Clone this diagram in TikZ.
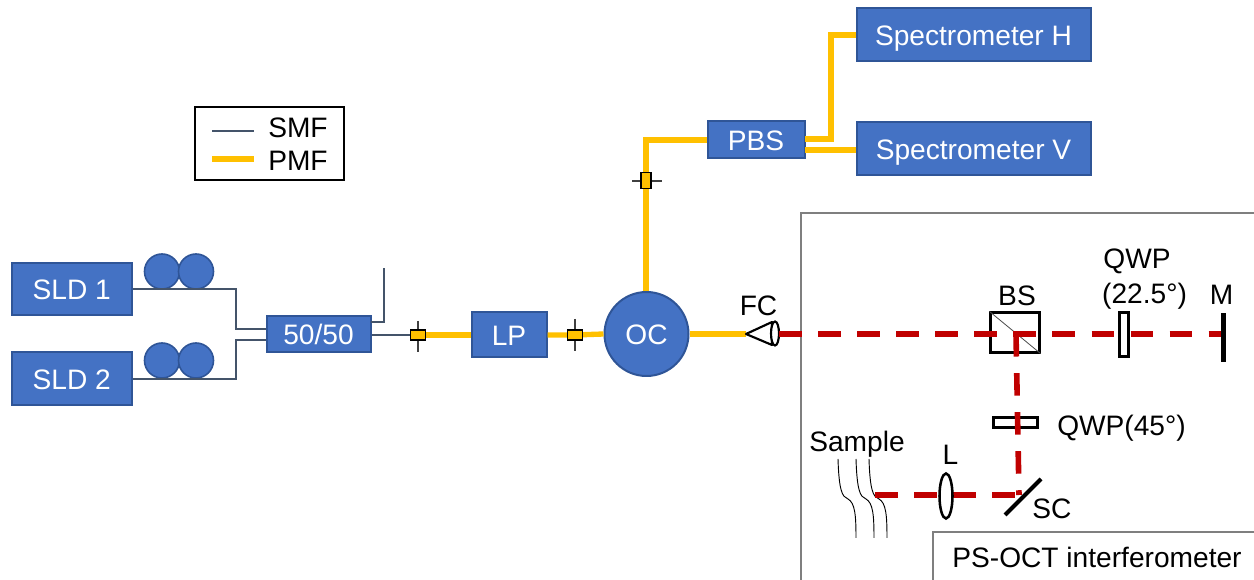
\documentclass[tikz,border=0pt]{standalone}
\usepackage{fontspec}
\usetikzlibrary{shapes.geometric}
\setmainfont{Liberation Sans}
\newdimen\px \px=0.75pt
\definecolor{boxfill}{HTML}{4472C4}
\definecolor{boxline}{HTML}{2F5597}
\definecolor{pmfcol}{HTML}{FFC000}
\definecolor{beamcol}{HTML}{C00000}
\definecolor{smfcol}{HTML}{44546A}
\definecolor{framecol}{HTML}{7F7F7F}
\tikzset{
  bluebox/.style={draw=boxline,fill=boxfill,line width=1.5pt,text=white,inner sep=0pt,font=\fontsize{21.1}{25}\selectfont,text height=15.1pt,text depth=0pt,align=center},
  paddle/.style={circle,draw=boxline,fill=boxfill,line width=1.2pt,minimum size=35*\px,inner sep=0pt},
  lab/.style={inner sep=0pt,font=\fontsize{21.1}{25}\selectfont,text height=15.1pt,text depth=0pt},
  smf/.style={draw=smfcol,line width=1.5pt},
  pmf/.style={draw=pmfcol,line width=4pt},
  beam/.style={draw=beamcol,line width=4.2pt,dash pattern=on 16.9pt off 12.4pt},
  optic/.style={draw=black,line width=1.6pt,fill=white,inner sep=0pt},
  conn/.style={draw=black,fill=pmfcol,line width=1.4pt,inner sep=0pt},
  tick/.style={draw=black!75,line width=0.8pt},
  samp/.style={draw=black,line width=0.7pt},
}
\begin{document}
\begin{tikzpicture}[x=0.75pt,y=-0.75pt]
\useasboundingbox (0,0) rectangle (1254,580);
% frames
\coordinate (f1) at (801,580); \coordinate (f2) at (801,213); \coordinate (f3) at (1254,213);
\draw[framecol,line width=1.5pt] (f1) -- (f2) -- (f3);
\node[lab,draw=framecol,line width=1.5pt,fill=white,minimum width=330*\px,minimum height=60*\px,anchor=north west] (psoct) at (932,531) {};
\node[lab] (psocttxt) at (1097,557) {PS-OCT interferometer};
% legend
\node[draw=black,line width=1.5pt,fill=white,minimum width=149*\px,minimum height=73*\px,inner sep=0pt] (legend) at (269,144) {};
\coordinate (l1a) at (212,131); \coordinate (l1b) at (254,131);
\coordinate (l2a) at (212,159); \coordinate (l2b) at (254,159);
\draw[smf] (l1a) -- (l1b);
\draw[pmf] (l2a) -- (l2b);
\node[lab,anchor=west] (smftxt) at (268,127) {SMF};
\node[lab,anchor=west] (pmftxt) at (268,160) {PMF};
% sources
\node[bluebox,minimum width=120*\px,minimum height=52*\px] (sld1) at (71.8,289.5) {SLD 1};
\node[bluebox,minimum width=120*\px,minimum height=53*\px] (sld2) at (71.8,379) {SLD 2};
\node[paddle] (p1a) at (162,271.5) {};
\node[paddle] (p1b) at (196,271.5) {};
\node[paddle] (p2a) at (162,360.5) {};
\node[paddle] (p2b) at (196,360.5) {};
\node[bluebox,minimum width=104*\px,minimum height=36*\px] (split) at (318.5,334.5) {50/50};
\coordinate (in1) at (236,329); \coordinate (in2) at (236,340);
\coordinate (in1e) at (266,329); \coordinate (in2e) at (266,340);
\draw[smf] (sld1.east) -| (in1) -- (in1e);
\draw[smf] (sld2.east) -| (in2) -- (in2e);
\coordinate (o1) at (371,322); \coordinate (o1t) at (384,268);
\draw[smf] (o1) -| (o1t);
% main line
\node[bluebox,minimum width=75*\px,minimum height=45*\px] (lp) at (509,335) {LP};
\node[bluebox,circle,minimum size=84*\px] (oc) at (646.5,334) {OC};
\node[bluebox,minimum width=97*\px,minimum height=37*\px] (pbs) at (756,140) {PBS};
\node[bluebox,minimum width=234*\px,minimum height=53*\px] (spech) at (973.5,35) {Spectrometer H};
\node[bluebox,minimum width=234*\px,minimum height=53*\px] (specv) at (973.5,149) {Spectrometer V};
% connectors' ticks
\coordinate (t1a) at (418,321); \coordinate (t1b) at (418,352);
\coordinate (t2a) at (575,319); \coordinate (t2b) at (575,351);
\coordinate (t3a) at (632,181); \coordinate (t3b) at (662,181);
\coordinate (c1) at (418,335); \coordinate (c2) at (575,335); \coordinate (c3) at (646,180.5);
\draw[smf] (split.east |- c1) -- (c1);
\draw[pmf] (c1) -- (lp.west);
\draw[pmf] (lp.east) -- (c2) -- (oc.west);
\coordinate (fctip) at (746,334);
\draw[pmf] (oc.east) -- (fctip);
\coordinate (pbsturn) at (646,140);
\draw[pmf] (pbs.west) -- (pbsturn) -- (oc.north -| pbsturn);
\coordinate (pbsh) at (805,139); \coordinate (pbsv) at (805,150);
\coordinate (hturn) at (831,35);
\draw[pmf] (pbsh) -| (hturn) -- (spech.west);
\draw[pmf] (pbsv) -- (specv.west |- pbsv);
\draw[tick] (t1a) -- (t1b);
\draw[tick] (t2a) -- (t2b);
\draw[tick] (t3a) -- (t3b);
\node[conn,minimum width=15*\px,minimum height=10*\px] (k1) at (c1) {};
\node[conn,minimum width=15*\px,minimum height=10*\px] (k2) at (c2) {};
\node[conn,minimum width=10*\px,minimum height=16*\px] (k3) at (c3) {};
% fibre collimator
\draw[optic,line join=round] (fctip) -- (772,322) -- (772,345) -- cycle;
\node[optic,ellipse,minimum width=8*\px,minimum height=24*\px] (fc) at (775,333.5) {};
\node[lab] (fctxt) at (758.5,305) {FC};
% sample
\foreach \d in {0,18,31}{
  \draw[samp] (838+\d,459) .. controls (839+\d,490) and (842+\d,497) .. (848+\d,499)
     .. controls (855+\d,503) and (856+\d,515) .. (856+\d,538);
}
\node[lab] (sampletxt) at (857,441) {Sample};
% optics behind the beam
\node[optic,minimum width=49*\px,minimum height=40*\px] (bs) at (1015,332.5) {};
\draw[draw=black!70,line width=0.6pt] (bs.north west) -- (bs.south east);
\node[optic,minimum width=44*\px,minimum height=10*\px] (qwpb) at (1015.5,422.5) {};
% beams
\coordinate (bstart) at (779,334); \coordinate (bend) at (1223,334);
\coordinate (vstart) at (1016,334); \coordinate (vend) at (1019,495);
\coordinate (hstart) at (875,495); \coordinate (hend) at (1021,495);
\draw[beam] (bstart) -- (bend);
\draw[beam] (vstart) -- (vend);
\draw[beam] (hstart) -- (hend);
% optics in front
\node[optic,minimum width=9*\px,minimum height=44*\px] (qwpa) at (1124,334.5) {};
\node[fill=black,minimum width=5*\px,minimum height=49*\px,inner sep=0pt] (mirror) at (1223,337.5) {};
\node[optic,ellipse,line width=1.9pt,minimum width=13*\px,minimum height=45*\px] (lens) at (946,496) {};
\coordinate (sca) at (1005,515); \coordinate (scb) at (1041,479);
\draw[black,line width=3pt] (sca) -- (scb);
\node[lab] (bstxt) at (1017,295) {BS};
\node[lab] (qwp1) at (1137,258) {QWP};
\node[lab] (qwp2) at (1144.5,293) {(22.5°)};
\node[lab] (mtxt) at (1221.5,294) {M};
\node[lab] (qwp3) at (1121.5,425) {QWP(45°)};
\node[lab] (ltxt) at (950.5,454) {L};
\node[lab] (sctxt) at (1052,508) {SC};
\end{tikzpicture}
\end{document}
